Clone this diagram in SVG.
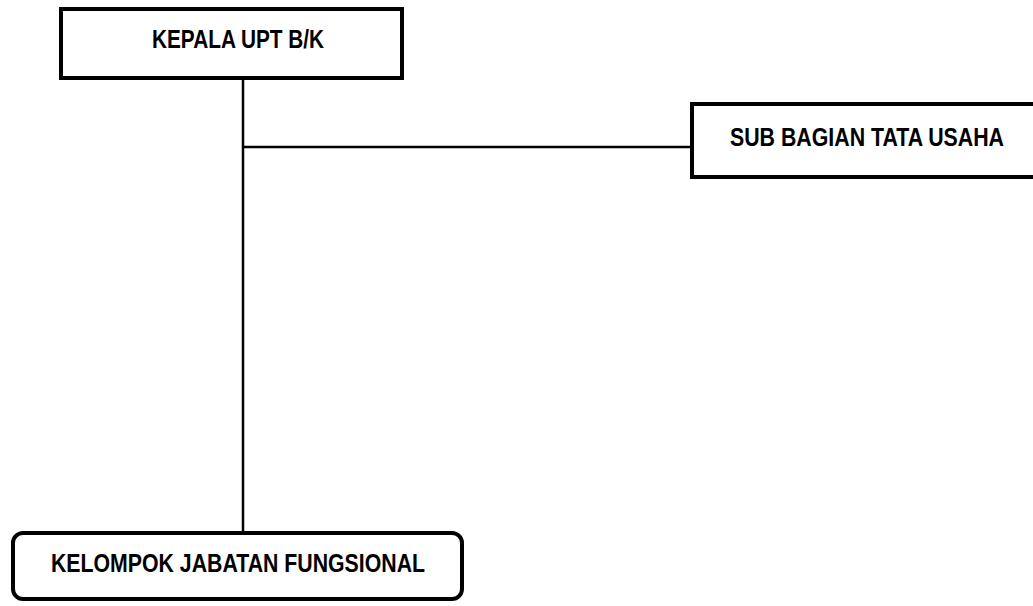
<svg xmlns="http://www.w3.org/2000/svg" width="1033" height="606" viewBox="0 0 1033 606">
<style>
.box{fill:#fff;stroke:#000;stroke-width:4}
.lbl{font-family:"Liberation Sans",Arial,sans-serif;font-weight:bold;font-size:26px;fill:#000}
.ln{stroke:#000;stroke-width:2.5;fill:none}
</style>
<rect width="1033" height="606" fill="#fff"/>
<g id="connectors">
<line class="ln" x1="243" y1="80" x2="243" y2="532"/>
<line class="ln" x1="243" y1="147" x2="692" y2="147"/>
</g>
<g id="kepala">
<rect class="box" x="61" y="9" width="341" height="69"/>
<text class="lbl" x="152" y="48" textLength="172" lengthAdjust="spacingAndGlyphs">KEPALA UPT B/K</text>
</g>
<g id="subbagian">
<rect class="box" x="692" y="104" width="345" height="73"/>
<text class="lbl" x="730" y="146" textLength="274" lengthAdjust="spacingAndGlyphs">SUB BAGIAN TATA USAHA</text>
</g>
<g id="kelompok">
<rect class="box" x="13" y="533" width="449" height="66" rx="10" ry="10"/>
<text class="lbl" x="51" y="572" textLength="374" lengthAdjust="spacingAndGlyphs">KELOMPOK JABATAN FUNGSIONAL</text>
</g>
</svg>
